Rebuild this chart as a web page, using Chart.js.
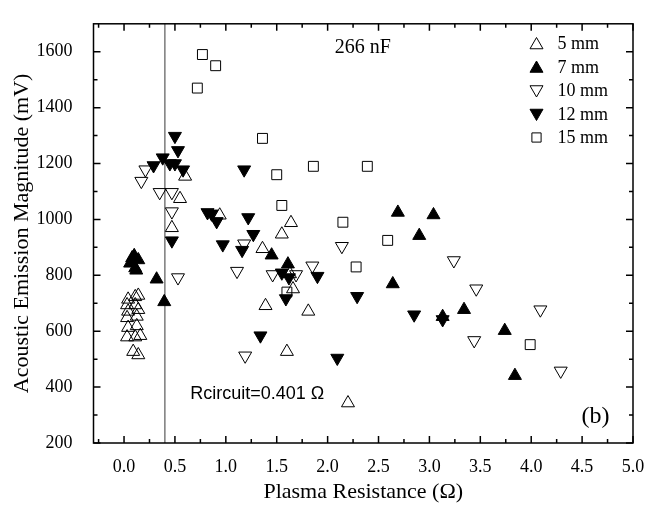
<!DOCTYPE html>
<html>
<head>
<meta charset="utf-8">
<script src="https://cdn.jsdelivr.net/npm/chart.js@4.4.1/dist/chart.umd.min.js"></script>
<style>
  html, body { margin: 0; padding: 0; background: #fff; }
  #wrap { width: 659px; height: 510px; }
</style>
</head>
<body>
<div id="wrap"><canvas id="chart" width="659" height="510"></canvas></div>
<script>
// series: plasma resistance (ohm) / acoustic emission magnitude (mV)
const seriesNames = ['5 mm', '7 mm', '10 mm', '12 mm', '15 mm'];

const r5x = [0.03, 0.03, 0.03, 0.04, 0.04, 0.04, 0.09, 0.11, 0.11, 0.11, 0.125, 0.125, 0.14, 0.14, 0.14, 0.16,
             0.47, 0.55, 0.60, 0.94, 1.36, 1.39, 1.55, 1.60, 1.63, 1.64, 1.66, 1.81, 2.20];
const ae5 = [579, 648, 694, 613, 671, 714, 527, 579, 694, 723, 619, 653, 515, 677, 728, 584,
             970, 1074, 1154, 1015, 895, 691, 947, 527, 805, 988, 751, 671, 343];

const r7x = [0.06, 0.08, 0.10, 0.11, 0.12, 0.14, 0.32, 0.395, 1.45, 1.61, 2.64, 2.69, 2.90, 3.04, 3.13, 3.34, 3.74, 3.84];
const ae7 = [843, 862, 870, 826, 818, 855, 786, 705, 872, 840, 769, 1025, 942, 1016, 652, 677, 602, 441];

const r10x = [0.17, 0.21, 0.35, 0.47, 0.47, 0.53, 1.11, 1.18, 1.19, 1.46, 1.69, 1.85, 2.14, 3.24, 3.44, 3.46, 4.09, 4.29];
const ae10 = [1137, 1178, 1097, 1097, 1028, 792, 815, 913, 512, 803, 803, 834, 904, 853, 567, 752, 677, 458];

const r12x = [0.29, 0.38, 0.45, 0.50, 0.50, 0.53, 0.58, 0.47, 0.82, 0.86, 0.91, 0.97, 1.16, 1.18, 1.22, 1.27,
              1.34, 1.55, 1.59, 1.62, 1.90, 2.095, 2.29, 2.85, 3.13];
const ae12 = [1193, 1221, 1200, 1200, 1298, 1247, 1178, 924, 1025, 1020, 993, 910, 890, 1178, 1007, 947,
              584, 809, 717, 792, 797, 504, 725, 659, 642];

const r15x = [0.72, 0.77, 0.90, 1.36, 1.50, 1.55, 1.60, 1.86, 2.15, 2.28, 2.39, 2.59, 3.99];
const ae15 = [1470, 1590, 1550, 1290, 1160, 1050, 740, 1190, 990, 830, 1190, 925, 552];

const xTickVals = [0, 0.5, 1, 1.5, 2, 2.5, 3, 3.5, 4, 4.5, 5];
const yTickVals = [200, 400, 600, 800, 1000, 1200, 1400, 1600];
const rCircuit = 0.401;

const serif = "'Liberation Serif', 'Times New Roman', serif";
const sans = "'Liberation Sans', Arial, sans-serif";

function pts(xs, ys) {
  return xs.map((v, i) => ({ x: v, y: ys[i] }));
}

const styles = [
  { pointStyle: 'triangle', rotation: 0, fill: 'rgba(0,0,0,0)', r: 7.5 },
  { pointStyle: 'triangle', rotation: 0, fill: '#000', r: 7.5 },
  { pointStyle: 'triangle', rotation: 180, fill: 'rgba(0,0,0,0)', r: 7.5 },
  { pointStyle: 'triangle', rotation: 180, fill: '#000', r: 7.5 },
  { pointStyle: 'rect', rotation: 0, fill: 'rgba(0,0,0,0)', r: 7 }
];
const dataSets = [pts(r5x, ae5), pts(r7x, ae7), pts(r10x, ae10), pts(r12x, ae12), pts(r15x, ae15)];

const datasets = seriesNames.map((name, i) => ({
  label: name,
  data: dataSets[i],
  pointStyle: styles[i].pointStyle,
  rotation: styles[i].rotation,
  pointRadius: styles[i].r,
  pointHoverRadius: styles[i].r,
  backgroundColor: styles[i].fill,
  borderColor: '#000',
  borderWidth: 1
}));

// frame, inward ticks, reference line, notes and legend
const decorations = {
  id: 'decorations',
  beforeDatasetsDraw(chart) {
    const { ctx, chartArea: a, scales: { x } } = chart;
    const px = x.getPixelForValue(rCircuit);
    ctx.save();
    ctx.strokeStyle = '#7a7a7a';
    ctx.lineWidth = 1.5;
    ctx.beginPath();
    ctx.moveTo(px, a.top);
    ctx.lineTo(px, a.bottom);
    ctx.stroke();
    ctx.restore();
  },
  afterDatasetsDraw(chart) {
    const { ctx, chartArea: a, scales: { x, y } } = chart;
    ctx.save();
    ctx.strokeStyle = '#000';
    ctx.lineWidth = 1.5;
    ctx.strokeRect(a.left, a.top, a.right - a.left, a.bottom - a.top);

    const major = 7, minor = 4;
    ctx.beginPath();
    const xMinor = xTickVals.map(v => v - 0.25).filter(v => v >= x.min);
    const drawX = (v, len) => {
      const p = x.getPixelForValue(v);
      ctx.moveTo(p, a.bottom); ctx.lineTo(p, a.bottom - len);
      ctx.moveTo(p, a.top); ctx.lineTo(p, a.top + len);
    };
    xTickVals.forEach(v => drawX(v, major));
    xMinor.forEach(v => drawX(v, minor));
    const yMinor = yTickVals.map(v => v + 100).filter(v => v < y.max);
    const drawY = (v, len) => {
      const p = y.getPixelForValue(v);
      ctx.moveTo(a.left, p); ctx.lineTo(a.left + len, p);
      ctx.moveTo(a.right, p); ctx.lineTo(a.right - len, p);
    };
    yTickVals.forEach(v => drawY(v, major));
    yMinor.forEach(v => drawY(v, minor));
    ctx.stroke();

    // notes
    ctx.fillStyle = '#000';
    ctx.textBaseline = 'middle';
    ctx.font = '20px ' + serif;
    ctx.textAlign = 'left';
    ctx.fillText('266 nF', x.getPixelForValue(2.07), y.getPixelForValue(1616));
    ctx.font = '18px ' + sans;
    ctx.fillText('Rcircuit=0.401 \u03A9', x.getPixelForValue(0.65), y.getPixelForValue(375));
    ctx.font = '24px ' + serif;
    ctx.textAlign = 'right';
    ctx.fillText('(b)', x.getPixelForValue(4.77), y.getPixelForValue(294));

    // legend
    const lx = 536.5, tx = 557.5, ly0 = 43.5, dy = 23.5;
    ctx.textAlign = 'left';
    ctx.font = '18px ' + serif;
    chart.data.datasets.forEach((ds, i) => {
      const cy = ly0 + i * dy;
      ctx.fillStyle = ds.backgroundColor;
      ctx.strokeStyle = '#000';
      ctx.lineWidth = 1;
      Chart.helpers.drawPoint(ctx, {
        pointStyle: ds.pointStyle,
        rotation: ds.rotation,
        radius: ds.pointStyle === 'rect' ? 6.5 : 7.5,
        borderWidth: 1
      }, lx, cy + (ds.pointStyle === 'triangle' ? (ds.rotation ? -1 : 1.5) : 0));
      ctx.fillStyle = '#000';
      ctx.fillText(ds.label, tx, cy + 1);
    });
    ctx.restore();
  }
};

new Chart(document.getElementById('chart'), {
  type: 'scatter',
  data: { datasets },
  plugins: [decorations],
  options: {
    responsive: false,
    animation: false,
    events: [],
    layout: { padding: { top: 10, right: 26, left: 0, bottom: 0 } },
    plugins: { legend: { display: false }, tooltip: { enabled: false } },
    scales: {
      x: {
        type: 'linear',
        min: -0.3,
        max: 5.0,
        afterBuildTicks: s => { s.ticks = xTickVals.map(v => ({ value: v })); },
        afterFit: s => { s.height = 67; },
        grid: { display: false },
        border: { display: false },
        ticks: {
          color: '#000',
          padding: 5,
          font: { family: serif, size: 18 },
          callback: v => v.toFixed(1)
        },
        title: {
          display: true,
          text: 'Plasma Resistance (\u03A9)',
          color: '#000',
          font: { family: serif, size: 22 },
          padding: { top: 0, bottom: 5 }
        }
      },
      y: {
        type: 'linear',
        min: 200,
        max: 1700,
        afterBuildTicks: s => { s.ticks = yTickVals.map(v => ({ value: v })); },
        afterFit: s => { s.width = 93.5; },
        grid: { display: false },
        border: { display: false },
        ticks: {
          color: '#000',
          padding: 13,
          font: { family: serif, size: 18 },
          callback: v => String(v)
        },
        title: {
          display: true,
          text: 'Acoustic Emission Magnitude (mV)',
          color: '#000',
          font: { family: serif, size: 22 },
          padding: { top: 9, bottom: 0 }
        }
      }
    }
  }
});
</script>
</body>
</html>
